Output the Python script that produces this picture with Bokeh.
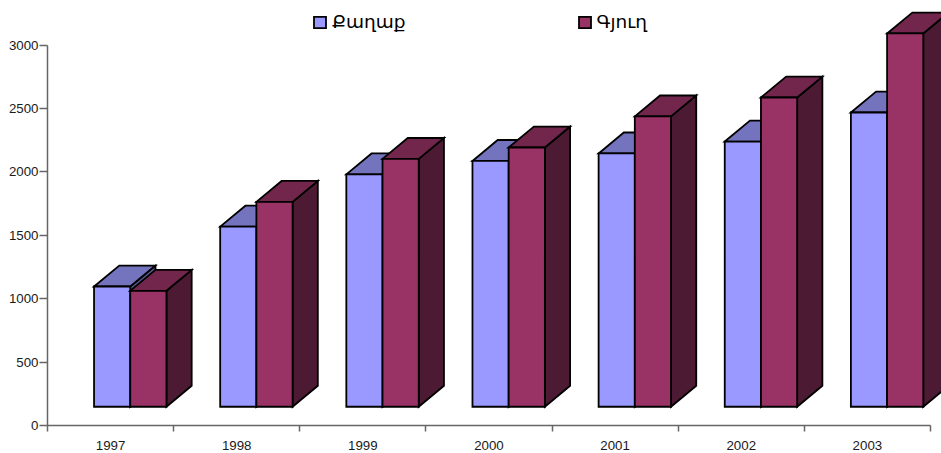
from bokeh.plotting import figure
from bokeh.models import FixedTicker, Legend, LegendItem, Range1d
from bokeh.embed import file_html
from bokeh.resources import INLINE

years = ["1997", "1998", "1999", "2000", "2001", "2002", "2003"]
series_names = ["Քաղաք", "Գյուղ"]
city = [1096, 1568, 1980, 2086, 2145, 2239, 2468]
village = [1062, 1763, 2102, 2192, 2437, 2586, 3091]
y_ticks = [0, 500, 1000, 1500, 2000, 2500, 3000]

FLOOR = 148
BAR_W = 0.287
BAR_OFF = 0.369
DX = 0.2
DY = 165
PX_X = 126.14
PX_Y = 0.12683
W, H = 941, 453
L, B = 47, 28

p = figure(width=W, height=H, output_backend="svg", toolbar_location=None,
           x_range=Range1d(-L / PX_X, (W - L) / PX_X),
           y_range=Range1d(-B / PX_Y, (H - B) / PX_Y),
           min_border_left=0, min_border_right=0, min_border_top=0, min_border_bottom=0)
p.outline_line_color = None
p.grid.visible = False
p.background_fill_color = "white"

TXT = "#1a1a1a"
AX = "#666666"
p.yaxis.fixed_location = 0
p.yaxis.ticker = FixedTicker(ticks=y_ticks)
p.yaxis.bounds = (0, 3000)
p.yaxis.axis_line_color = AX
p.yaxis.axis_line_width = 1.5
p.yaxis.major_tick_line_color = AX
p.yaxis.major_tick_line_width = 1.5
p.yaxis.major_tick_out = 8
p.yaxis.major_tick_in = 0
p.yaxis.minor_tick_line_color = None
p.yaxis.major_label_text_font = "Liberation Sans"
p.yaxis.major_label_text_font_size = "13.3px"
p.yaxis.major_label_text_color = TXT
p.yaxis.major_label_standoff = 1

idx = list(range(len(years)))
p.xaxis.fixed_location = 0
p.xaxis.ticker = FixedTicker(ticks=[i + 0.5 for i in idx], minor_ticks=idx + [len(idx)])
p.xaxis.major_label_overrides = {i + 0.5: y for i, y in zip(idx, years)}
p.xaxis.bounds = (0, len(idx))
p.xaxis.axis_line_color = AX
p.xaxis.axis_line_width = 1.5
p.xaxis.major_tick_line_color = None
p.xaxis.minor_tick_line_color = AX
p.xaxis.minor_tick_line_width = 1.5
p.xaxis.minor_tick_out = 6
p.xaxis.minor_tick_in = 0
p.xaxis.major_label_text_font = "Liberation Sans"
p.xaxis.major_label_text_font_size = "13.3px"
p.xaxis.major_label_text_color = TXT
p.xaxis.major_label_standoff = 9


def bars(values, k, front, top, side):
    left = [i + BAR_OFF + k * BAR_W for i in idx]
    right = [x + BAR_W for x in left]
    kw = dict(line_color="black", line_width=1.8, line_join="miter")
    p.patches([[r, r + DX, r + DX, r] for r in right],
              [[FLOOR, FLOOR + DY, v + DY, v] for v in values], fill_color=side, **kw)
    p.patches([[l, l + DX, r + DX, r] for l, r in zip(left, right)],
              [[v, v + DY, v + DY, v] for v in values], fill_color=top, **kw)
    return p.quad(left=left, right=right, bottom=[FLOOR] * len(values), top=values,
                  fill_color=front, **kw)


r1 = bars(city, 0, "#9999FF", "#7474BE", "#5C5C99")
r2 = bars(village, 1, "#993366", "#72264C", "#4D1A33")

legend = Legend(items=[LegendItem(label=series_names[0], renderers=[r1]),
                       LegendItem(label=series_names[1], renderers=[r2])],
                orientation="horizontal", location=(312, H - 12 - 20),
                background_fill_alpha=0, border_line_color=None,
                padding=0, margin=0, spacing=171,
                glyph_width=15, glyph_height=14, label_standoff=5,
                label_text_font="DejaVu Sans", label_text_font_size="18.5px",
                label_text_color="black", label_height=20)
p.add_layout(legend, "center")

open("out.html", "w").write(file_html(p, INLINE))
